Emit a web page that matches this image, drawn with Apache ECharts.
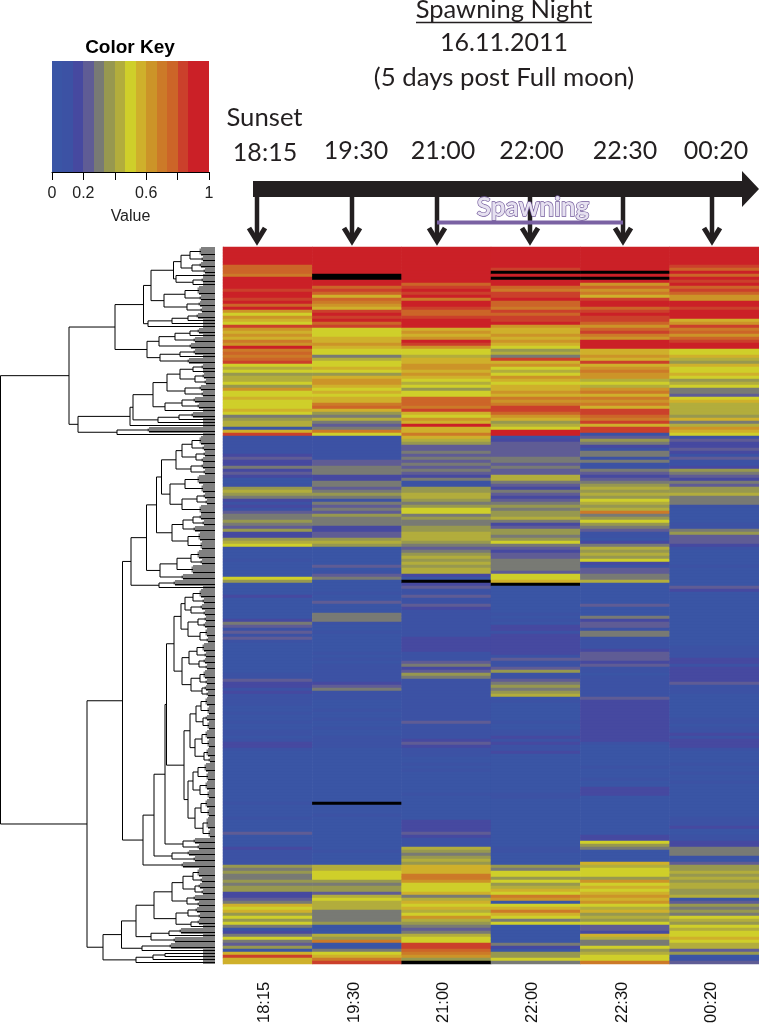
<!DOCTYPE html>
<html>
<head>
<meta charset="utf-8">
<style>html,body{margin:0;padding:0;background:#fff}#c{width:759px;height:1026px}</style>
<script src="https://cdn.jsdelivr.net/npm/echarts@6/dist/echarts.min.js"></script>
</head>
<body>
<div id="c"></div>
<script>
// Column labels (time points)
const timeLabels = ['18:15','19:30','21:00','22:00','22:30','00:20'];

// Colour key: 15 bands, 0 to 1
const keyColors = ['#3a55a5','#3c52a4','#4649a0','#5f5c95','#787a74','#97984f','#b2ad3c','#cfcf2a','#cfb02b','#cc9428','#cc7a28','#cc6528','#cb402b','#cb2027','#cb2027'];
const keyTicks = [0,0.2,0.4,0.6,0.8,1];
const keyTickLabels = ['0','0.2','','0.6','','1'];
const missingColor = '#000000';

// Heat values per column, top row first, as colour key band index (-1 = missing)
const col1815 = [
14,14,14,14,14,14,11,11,11,10, 14,14,14,14,12,13,13,12,13,11, 13,9,7,9,8,7,12,9,8,9, 8,10,9,13,10,11,10,11,12,7,
6,7,5,6,6,7,5,9,7,7, 8,7,7,7,8,7,4,5,6,6, 0,8,12,1,1,1,1,1,1,2, 3,2,2,4,2,3,2,0,0,1,
5,6,5,4,2,1,2,1,3,4, 4,5,4,3,5,2,2,5,6,7, 1,0,0,0,1,0,0,0,0,0, 7,5,0,0,0,0,2,0,0,0,
0,0,0,0,2,4,3,1,3,1, 3,1,0,0,0,0,0,0,0,0, 0,0,1,1,3,2,2,1,2,1, 1,1,1,0,0,1,0,0,1,0,
0,1,1,0,1,2,2,1,0,0, 0,0,0,0,0,0,0,0,0,0, 0,0,0,0,0,1,0,0,0,0, 1,0,0,0,0,3,0,0,0,0,
2,1,1,1,1,1,5,4,5,4, 4,5,4,5,5,2,2,3,4,8, 7,8,5,7,5,7,4,0,2,4, 7,4,3,5,0,8,12,8,8];
const col1930 = [
14,14,14,14,14,14,13,14,13,-1, -1,14,13,11,12,11,8,11,10,9, 8,12,13,12,13,11,12,7,7,7, 8,8,9,8,7,7,4,6,7,7,
8,7,5,8,9,9,8,7,8,7, 8,8,10,11,8,5,4,6,4,3, 4,10,7,1,1,1,1,1,1,1, 1,3,3,4,4,4,2,2,4,4,
3,4,5,4,1,4,3,4,3,5, 4,4,4,2,2,3,3,5,6,5, 0,0,0,0,0,0,3,0,1,3, 4,0,0,0,0,1,0,0,3,0,
0,0,4,4,4,1,0,0,1,0, 0,0,0,0,0,1,0,1,0,1, 1,1,1,1,1,2,3,4,1,1, 1,0,0,0,1,0,0,1,0,0,
1,0,0,1,1,1,1,0,0,0, 0,0,0,0,0,0,0,0,0,0, 0,0,0,0,0,-1,0,0,0,1, 0,0,0,0,0,0,0,0,0,0,
0,1,0,0,0,0,6,6,7,7, 7,5,4,5,5,3,6,7,6,6, 6,4,4,4,4,5,0,0,0,6, 5,10,0,0,4,7,8,10,12];
const col2100 = [
14,14,14,14,14,14,14,14,14,14, 14,14,11,12,13,12,13,10,13,13, 12,11,11,12,13,13,13,8,9,8, 9,13,12,9,7,7,6,8,8,9,
9,8,9,8,7,6,7,5,7,7, 11,11,11,10,12,8,7,9,8,13, 8,8,10,8,6,5,3,3,4,3, 4,3,4,3,4,3,2,4,1,1,
5,5,6,6,5,4,5,7,7,4, 5,4,4,5,5,6,6,6,5,4, 3,4,5,6,5,6,5,6,6,2, 0,-1,2,3,1,1,3,1,1,3,
2,1,1,1,1,1,1,1,1,1, 2,2,2,2,2,1,1,1,3,4, 2,3,5,4,1,1,1,1,1,1, 1,1,1,1,1,1,1,1,3,1,
1,1,1,1,2,3,2,1,1,1, 0,0,1,0,1,0,0,0,0,0, 0,0,1,0,0,0,0,0,0,0, 0,2,2,2,2,3,2,1,1,1,
6,5,4,5,6,5,8,8,8,10, 10,9,7,7,7,8,4,6,8,7, 8,6,7,9,6,5,4,3,4,6, 7,7,12,12,11,10,9,5,-1];
const col2200 = [
14,14,14,14,14,14,14,12,-1,14, -1,14,14,11,10,12,12,13,11,11, 10,12,11,12,12,13,9,8,8,9, 8,9,8,7,5,6,4,12,8,9,
7,6,7,9,8,7,8,8,9,8, 10,9,10,12,12,11,9,8,5,6, 7,13,13,1,2,3,3,3,3,3, 4,4,3,4,3,3,6,6,4,3,
2,4,3,2,3,4,5,4,5,5, 6,4,2,3,5,5,4,5,7,4, 3,2,3,3,4,4,4,4,3,7, 7,8,-1,0,0,0,0,0,0,0,
0,0,1,0,1,0,2,2,1,2, 2,2,2,2,2,2,1,3,1,1, 3,5,1,1,3,4,5,4,5,6, 0,1,0,0,0,0,0,0,1,0,
0,1,1,2,1,2,1,1,2,0, 0,0,0,0,0,0,0,0,0,0, 0,0,1,1,0,0,0,0,0,0, 0,0,0,0,0,0,0,0,0,0,
1,1,0,0,0,0,5,4,7,7, 5,7,5,6,8,7,10,9,0,7, 8,10,8,7,4,7,0,0,0,0, 0,0,4,2,0,5,5,7,4];
const col2230 = [
14,14,14,14,14,14,14,14,-1,14, -1,14,9,11,9,10,8,12,13,13, 11,12,13,12,12,11,9,11,12,10, 9,13,14,13,8,8,9,8,12,8,
9,10,9,9,6,7,6,9,10,8, 10,9,10,8,12,12,11,10,12,8, 12,12,1,3,5,4,2,1,4,4, 1,4,1,1,4,3,2,3,4,5,
6,5,6,5,7,6,5,6,10,4, 5,7,5,4,3,1,1,0,2,4, 6,5,6,5,7,2,1,3,3,4, 4,6,0,0,0,0,0,0,0,3,
0,0,0,4,2,3,3,1,4,4, 1,1,1,1,2,3,3,3,2,3, 1,1,0,1,1,1,1,1,1,1, 3,2,2,2,2,2,2,2,2,2,
2,2,2,2,2,1,0,0,0,0, 0,0,0,1,0,0,0,1,0,0, 2,2,2,0,0,0,0,0,0,0, 0,0,0,0,0,0,2,2,7,5,
4,0,0,0,0,8,6,7,7,7, 5,9,7,8,7,8,9,8,9,7, 6,8,5,6,5,7,3,3,2,8, 6,4,4,7,5,6,7,7,10];
const col0020 = [
14,14,14,14,14,14,12,11,13,11, 13,12,13,11,12,11,9,9,13,13, 12,13,13,13,8,9,12,10,11,9, 11,12,13,13,7,7,8,6,5,8,
7,7,8,7,5,6,7,4,4,3, 7,8,6,6,6,6,5,8,4,6, 9,8,7,1,3,2,2,3,2,1, 3,1,1,2,5,4,3,2,4,3,
5,5,6,4,4,4,1,0,0,0, 0,0,1,1,4,5,3,3,3,2, 1,0,0,0,0,0,1,0,0,0, 0,0,0,3,2,0,0,0,0,0,
0,0,0,0,0,0,0,0,0,0, 0,0,0,1,1,1,1,2,2,1, 2,2,2,2,2,3,1,1,1,0, 0,0,0,0,0,0,0,1,1,0,
1,1,2,1,2,2,2,1,0,0, 0,0,1,0,0,1,0,0,1,0, 0,0,0,0,0,0,0,0,0,0, 1,1,1,2,0,0,1,1,2,2,
4,4,4,1,0,3,5,5,6,5, 6,5,6,6,5,5,6,0,3,5, 4,5,4,7,6,5,7,6,7,7, 8,7,6,6,3,5,0,1,3];
const heatColumns = [col1815,col1930,col2100,col2200,col2230,col0020];

// Row dendrogram. [height, child, child] is a merge, [height, n] is a tight bundle of n leaves, 1 is one leaf.
const treeRedHigh = [100,
  [71.5,
    [64,
      [41.5,
        [34,[25,[14,3],[12,2]],[23,[14,2],[10,2]]],
        [39,1,[22,[12,2],1]]],
      [51,[30,[16,3],[14,2]],[28,[15,2],[13,2]]]],
    [67,[43,[27,[17,2],1],1],1]],
  [68,
    [56,[40,[25,[16,2],1],[20,2]],[24,2]],
    [55,[35,[20,2],1],[26,2]]]];
const treeYellow = [137,
  [85,
    [82,
      [62,
        [48,[35,[22,[12,2],1],[20,[11,2],[9,2]]],[30,[14,2],[12,2]]],
        [50,[33,[20,2],[16,2]],1]],
      [57,[36,[22,2],1],1]],
    1],
  [98,[66,2],1]];
const treeMixed = [84,
  [68.5,
    [58.5,
      [53.5,
        [39,[33,[23,[14,3],[11,2]],[19,[10,2],[12,2]]],[24,[12,2],[10,2]]],
        [45,[30,[16,3],[12,3]],[33,[18,[10,2],[8,2]],[14,3]]]],
      [43,[32,[22,[14,2],[11,2]],[20,2]],[27,[15,3],[13,3]]]],
    [55,[38,[24,[16,3],[13,2]],[22,3]],[32,2]]],
  [56,[40,2],1]];
const treeBlue = [72,
  [61,
    [50,
      [48.5,
        [41,
          [34,[30,[22,[14,3],[11,2]],[24,[13,2],[10,2]]],[27,[17,[9,2],[10,2]],[15,[8,3],[7,2]]]],
          [33,[26,[18,[11,3],[9,2]],[16,[10,2],[8,2]]],[24,[15,[10,3],[8,2]],[13,[9,2],[7,2]]]]],
        [31,
          [25,[19,[14,[8,3],[6,3]],[12,[8,2],[6,3]]],[20,[13,[8,3],[6,3]],[11,[7,3],[5,2]]]],
          [27,[22,[17,[9,3],[7,3]],[15,[8,3],[6,3]]],[20,[14,[8,3],[6,3]],[12,[7,4],[5,3]]]]]],
      [32,[20,2],[16,2]]],
    [43,[26,2],[20,2]]],
  [32,2]];
const treeLower = [112,
  [93.5,
    [79,
      [61,
        [43,[32,[22,[16,3],[13,2]],[20,[15,2],[12,2]]],[28,[20,2],[16,2]]],
        [39,[27,[18,2],[15,2]],[24,[16,2],1]]],
      [64,[46,[34,2],1],[40,2]]],
    [73,[44,2],1]],
  [79,[62,[50,1,1],1],1]];
const treeRoot = [214.5,[146,treeRedHigh,treeYellow],[128,[92.5,treeMixed,treeBlue],treeLower]];

const rowCount = col1815.length;
const rowNames = col1815.map((_, i) => String(i));
const heatData = [];
heatColumns.forEach((col, c) => col.forEach((v, r) => heatData.push([c, r, v])));

const treeGreyLeaves = [];
const treeBlackLines = [];
const leafStub = 12;
let nextLeaf = 0;
function layoutTree(n) {
  if (typeof n === 'number') {
    const y = (nextLeaf++) + 0.5;
    treeGreyLeaves.push([leafStub, y, 0, y, 1]);
    return { h: 0, y: y };
  }
  if (n.length === 2) {
    const first = nextLeaf + 0.5;
    for (let i = 0; i < n[1]; i++) {
      const y = (nextLeaf++) + 0.5;
      treeGreyLeaves.push([n[0], y, 0, y, 1]);
    }
    const last = nextLeaf - 0.5;
    treeBlackLines.push([n[0], last, 0, last, 0]);
    treeGreyLeaves.push([n[0], first, n[0], last, 1]);
    return { h: n[0], y: (first + last) / 2 };
  }
  const a = layoutTree(n[1]);
  const b = layoutTree(n[2]);
  treeBlackLines.push([n[0], a.y, n[0], b.y, 0]);
  treeBlackLines.push([n[0], a.y, a.h, a.y, 0]);
  treeBlackLines.push([n[0], b.y, b.h, b.y, 0]);
  return { h: n[0], y: (a.y + b.y) / 2 };
}
layoutTree(treeRoot);
const treeSegments = treeGreyLeaves.concat(treeBlackLines);

const keyData = keyColors.map((c, i) => [i / keyColors.length, (i + 1) / keyColors.length, i]);

const ink = '#231f20';
const headFont = 'Lato';
const sansFont = '"Liberation Sans"';
const arrowX = [257, 352, 437, 530, 623, 712];
const headLabelX = [265, 356, 443, 531.5, 625, 716];
const headLabelY = [153, 151, 151, 151, 151, 151];

function txt(text, x, y, size, extra) {
  return { type: 'text', x: x, y: y, z: 20, style: Object.assign({
    text: text, fontFamily: headFont, fontSize: size, fill: ink, align: 'center', verticalAlign: 'middle'
  }, extra || {}) };
}
const graphics = [];
graphics.push(txt('Spawning Night', 504, 10, 25.5));
graphics.push({ type: 'line', z: 20, shape: { x1: 416, y1: 22.5, x2: 592, y2: 22.5 }, style: { stroke: ink, lineWidth: 1.3 } });
graphics.push(txt('16.11.2011', 504, 43, 25));
graphics.push(txt('(5 days post Full moon)', 504, 78, 25.8));
graphics.push(txt('Sunset', 264.5, 118, 25.7));
timeLabels.forEach((t, i) => graphics.push(txt(t, headLabelX[i], headLabelY[i], 25)));
graphics.push(txt('Color Key', 130, 48, 19, { fontFamily: sansFont, fontWeight: 'bold', fill: '#000' }));
arrowX.forEach(x => {
  graphics.push({ type: 'line', z: 10, shape: { x1: x, y1: 195, x2: x, y2: 241 }, style: { stroke: ink, lineWidth: 4.5 } });
  graphics.push({ type: 'polyline', z: 10, shape: { points: [[x - 8, 228], [x, 241], [x + 8, 228]] }, style: { stroke: ink, lineWidth: 5, fill: 'none' } });
});
graphics.push({ type: 'polygon', z: 11, shape: { points: [[253, 181], [742, 181], [742, 171], [759, 189], [742, 207], [742, 197], [253, 197]] }, style: { fill: ink } });
graphics.push({ type: 'line', z: 15, shape: { x1: 437, y1: 222.5, x2: 623, y2: 222.5 }, style: { stroke: '#7a62a3', lineWidth: 4 } });
graphics.push(txt('Spawning', 533, 208, 26, { fontWeight: 'bold', fill: '#e6e1f0', stroke: '#6f5699', lineWidth: 1.3 }));

const option = {
  animation: false,
  backgroundColor: '#fff',
  grid: [
    { left: 223, top: 247, width: 536, height: 717 },
    { left: 0, top: 247, width: 215, height: 717 },
    { left: 52, top: 61, width: 157, height: 111 },
    { left: 220, top: 247, width: 536, height: 717 }
  ],
  xAxis: [
    { gridIndex: 0, type: 'category', data: timeLabels, show: false },
    { gridIndex: 1, type: 'value', inverse: true, min: 0, max: 215, show: false },
    { gridIndex: 2, type: 'value', min: 0, max: 1, interval: 0.2, position: 'bottom',
      name: 'Value', nameLocation: 'middle', nameGap: 37,
      nameTextStyle: { fontSize: 16, color: '#222', fontFamily: sansFont },
      axisLine: { show: true, onZero: false, lineStyle: { color: '#000', width: 1 } },
      axisTick: { show: true, length: 8, lineStyle: { color: '#000', width: 1 } },
      splitLine: { show: false },
      axisLabel: { fontSize: 16, color: '#222', fontFamily: sansFont, margin: 14, showMinLabel: true, showMaxLabel: true,
        formatter: v => { const i = keyTicks.findIndex(t => Math.abs(t - v) < 1e-6); return i < 0 ? '' : keyTickLabels[i]; } } },
    { gridIndex: 3, type: 'category', data: timeLabels, position: 'bottom',
      axisLine: { show: false }, axisTick: { show: false }, splitLine: { show: false },
      axisLabel: { rotate: 90, margin: 19, fontSize: 16.5, color: '#111', fontFamily: sansFont, interval: 0 } }
  ],
  yAxis: [
    { gridIndex: 0, type: 'category', data: rowNames, inverse: true,
      axisLine: { show: true, lineStyle: { color: '#bdbdbd', width: 1 } }, axisTick: { show: false }, axisLabel: { show: false }, splitLine: { show: false } },
    { gridIndex: 1, type: 'value', inverse: true, min: 0, max: rowCount, show: false },
    { gridIndex: 2, type: 'value', min: 0, max: 1, show: false },
    { gridIndex: 3, type: 'value', min: 0, max: 1, show: false }
  ],
  visualMap: {
    type: 'piecewise', show: false, seriesIndex: 0, dimension: 2,
    pieces: [{ value: -1, color: missingColor }].concat(keyColors.map((c, i) => ({ value: i, color: c })))
  },
  series: [
    { type: 'heatmap', xAxisIndex: 0, yAxisIndex: 0, data: heatData, progressive: 0, silent: true,
      itemStyle: { borderWidth: 0 } },
    { type: 'custom', xAxisIndex: 1, yAxisIndex: 1, data: treeSegments, silent: true, clip: false,
      encode: { x: [0, 2], y: [1, 3] },
      renderItem: (p, api) => {
        const a = api.coord([api.value(0), api.value(1)]);
        const b = api.coord([api.value(2), api.value(3)]);
        const leaf = api.value(4) === 1;
        return { type: 'line', shape: { x1: a[0], y1: a[1], x2: b[0], y2: b[1] },
          style: { stroke: leaf ? '#808080' : '#000', lineWidth: leaf ? 3 : 1, fill: null } };
      } },
    { type: 'custom', xAxisIndex: 2, yAxisIndex: 2, data: keyData, silent: true,
      encode: { x: [0, 1] },
      renderItem: (p, api) => {
        const a = api.coord([api.value(0), 1]);
        const b = api.coord([api.value(1), 0]);
        const x0 = Math.round(a[0]), x1 = Math.round(b[0]);
        return { type: 'rect', shape: { x: x0, y: a[1], width: x1 - x0, height: b[1] - a[1] },
          style: { fill: keyColors[api.value(2)] } };
      } }
  ],
  graphic: { elements: graphics }
};
const chart = echarts.init(document.getElementById('c'), null, { renderer: 'canvas' });
chart.setOption(option);
</script>
</body>
</html>
